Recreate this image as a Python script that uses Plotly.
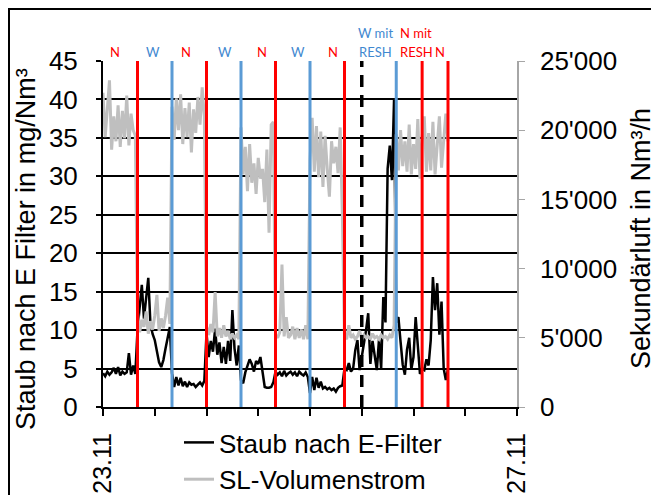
import pandas as pd
import plotly.graph_objects as go

# ---------------- data ----------------
START = "2015-11-23 00:00"
N_POINTS = 161          # 23.11 00:00 .. 26.11 08:00, every 30 min

# Staub nach E-Filter (mg/Nm3), left axis
staub = [
    # 0-8 h
    4.4, 4.0, 4.6, 4.2, 4.5, 5.1, 4.3, 5.2, 4.1, 4.6, 4.3, 4.5, 7.0, 4.2, 5.4, 4.3,
    # 8-16 h
    10.0, 12.6, 15.9, 11.5, 14.0, 16.8, 10.8, 9.5, 8.7, 7.4, 5.8, 5.2, 6.1, 7.6, 9.2, 10.4,
    # 16-24 h
    4.4, 2.6, 3.9, 2.8, 3.8, 2.7, 3.3, 2.6, 3.2, 2.9, 3.0, 2.6, 2.9, 3.2, 2.8, 3.4,
    # 24-32 h
    9.6, 6.5, 8.6, 7.2, 10.2, 6.8, 8.4, 5.7, 7.8, 5.6, 8.6, 6.0, 12.6, 7.6, 5.4, 8.0,
    # 32-40 h
    3.5, 3.1, 4.5, 5.3, 6.2, 5.6, 4.6, 6.0, 5.6, 6.5, 4.8, 2.6, 2.5, 2.5, 2.6, 3.2,
    # 40-48 h
    4.6, 4.2, 4.5, 4.0, 4.7, 4.1, 4.4, 4.6, 4.2, 4.5, 4.0, 4.6, 4.3, 4.1, 4.5, 3.9,
    # 48-56 h
    1.8, 3.9, 2.2, 3.8, 2.5, 3.3, 2.4, 2.6, 2.3, 2.5, 2.2, 2.4, 2.0, 2.5, 2.7, 2.8,
    # 56-68 h
    5.0, 4.8, 5.7, 4.6, 5.0, 7.4, 8.7, 4.8, 6.5, 8.0, 10.0, 12.2, 5.6, 8.6, 6.8, 4.8,
    8.8, 5.0, 14.3, 11.0, 31.0, 34.0, 29.5, 40.2,
    # 68-80 h
    11.0, 11.7, 8.5, 5.5, 4.2, 7.5, 9.0, 4.9, 6.5, 11.7, 8.0, 4.3, 5.0, 4.8, 6.2, 5.4,
    8.7, 16.9, 12.6, 16.1, 9.4, 13.7, 5.0, 3.5, 4.9,
]

# SL-Volumenstrom (Nm3/h), right axis
sl_volumen = [
    # 0-8 h
    22700, 19500, 21500, 23600, 18600, 21000, 19200, 21800, 18800, 21400, 19400, 22500, 18900, 21200, 20000, 19600,
    # 8-16 h
    6800, 5400, 6300, 5800, 6900, 5300, 6200, 5600, 6600, 8100, 5500, 6400, 5700, 6600, 7900, 6000,
    # 16-24 h
    21700, 19300, 22300, 20000, 22600, 19000, 21600, 19500, 22000, 18400, 21500, 19800, 22400, 20400, 23100, 21000,
    # 24-32 h
    5800, 5200, 6000, 5400, 8300, 5100, 5700, 5000, 5900, 5100, 5500, 4900, 5300, 5000, 5200, 4900,
    # 32-40 h
    20200, 16800, 18800, 15600, 19000, 16200, 17600, 15400, 18000, 16500, 17200, 14800, 18600, 12600, 20400, 20600,
    # 40-48 h
    5200, 5000, 5400, 10300, 5100, 6500, 5000, 5200, 5800, 4900, 5700, 5000, 5600, 4900, 5900, 4900,
    # 48-56 h
    17800, 20900, 17000, 20300, 16600, 19900, 15900, 19600, 17200, 15200, 19200, 17600, 18800, 16900, 20200, 14000,
    # 56-68 h
    5100, 4900, 5900, 5000, 5200, 4900, 5100, 5500, 4900, 5200, 5000, 5100, 4900, 5300, 5000, 5100,
    4900, 5200, 5000, 5100, 4900, 5200, 5000, 5900,
    # 68-80 h
    19700, 17100, 20000, 17400, 19200, 17000, 20400, 16800, 19000, 17200, 20800, 16500, 19500, 21000, 17000, 19800,
    17100, 20600, 16800, 19300, 21000, 17300, 19600, 21200, 19200,
]

# period boundaries (hours after start)
red_lines = [8, 24, 40, 56, 74, 80]
blue_lines = [16, 32, 48, 68]
dashed_lines = [60]

# period labels
label_hours = [2.8, 11.5, 19.25, 28.3, 36.9, 45.3, 53.4, 63.1, 72.6, 78.1]
label_line1 = ["", "", "", "", "", "", "", "W mit", "N mit", ""]
label_line2 = ["N", "W", "N", "W", "N", "W", "N", "RESH", "RESH", "N"]
label_kind = ["N", "W", "N", "W", "N", "W", "N", "W", "N", "N"]

x_tick_labels = ["23.11", "", "", "", "", "", "", "", "27.11"]
left_ticks = [0, 5, 10, 15, 20, 25, 30, 35, 40, 45]
right_ticks = [0, 5000, 10000, 15000, 20000, 25000]

# ---------------- figure ----------------
t0 = pd.Timestamp(START)
times = pd.date_range(t0, periods=N_POINTS, freq="30min")


def at(h):
    return t0 + pd.Timedelta(hours=h)


RED = "#ff0000"
BLUE = "#5b9bd5"
BLUE_TXT = "#3f88d0"
FONT = "Arial, Liberation Sans, sans-serif"
LBL_FONT = "Lato, Open Sans, sans-serif"

# page body has an 8 px margin -> figure is 8 px smaller, plot area placed to match
OFF = 8
W, H = 659 - OFF, 495 - OFF
PLOT_L, PLOT_R, PLOT_T, PLOT_B = 103, 517, 61, 407   # window pixel positions
L, T = PLOT_L - OFF, PLOT_T - OFF
R, B = 659 - PLOT_R, 495 - PLOT_B
PW, PH = PLOT_R - PLOT_L, PLOT_B - PLOT_T


def px(x):   # window pixel x -> paper
    return (x - PLOT_L) / PW


def py(y):   # window pixel y -> paper
    return (PLOT_B - y) / PH


fig = go.Figure()
fig.add_trace(go.Scatter(x=times, y=staub, mode="lines", name="Staub nach E-Filter",
                         line=dict(color="black", width=2.5), yaxis="y"))
fig.add_trace(go.Scatter(x=times, y=sl_volumen, mode="lines", name="SL-Volumenstrom",
                         line=dict(color="#bfbfbf", width=3), yaxis="y2"))

shapes = []
for h in red_lines:
    shapes.append(dict(type="line", xref="x", yref="paper", x0=at(h), x1=at(h), y0=0, y1=1,
                       line=dict(color=RED, width=3), layer="above"))
for h in blue_lines:
    shapes.append(dict(type="line", xref="x", yref="paper", x0=at(h), x1=at(h), y0=0, y1=1,
                       line=dict(color=BLUE, width=3), layer="above"))
for h in dashed_lines:
    shapes.append(dict(type="line", xref="x", yref="paper", x0=at(h), x1=at(h), y0=0, y1=1,
                       line=dict(color="black", width=3.5, dash="12px,8px"), layer="above"))

# outer chart frame (right and bottom edges lie outside the picture)
shapes.append(dict(type="rect", xref="paper", yref="paper",
                   x0=px(9), x1=px(664), y0=py(500), y1=py(9),
                   line=dict(color="black", width=2), fillcolor="rgba(0,0,0,0)"))

annotations = []
for h, l1, l2, k in zip(label_hours, label_line1, label_line2, label_kind):
    col = RED if k == "N" else BLUE_TXT
    annotations.append(dict(x=at(h), xref="x", y=py(52), yref="paper", text=l2,
                            showarrow=False, xanchor="center", yanchor="middle",
                            font=dict(family=LBL_FONT, size=13, color=col)))
    if l1:
        annotations.append(dict(x=at(h), xref="x", y=py(33), yref="paper", text=l1,
                                showarrow=False, xanchor="center", yanchor="middle",
                                font=dict(family=LBL_FONT, size=13, color=col)))

annotations.append(dict(x=px(26), y=py(249), xref="paper", yref="paper",
                        text="Staub nach E Filter in mg/Nm³", textangle=-90, showarrow=False,
                        xanchor="center", yanchor="middle",
                        font=dict(family=FONT, size=27, color="black")))
annotations.append(dict(x=px(641), y=py(239), xref="paper", yref="paper",
                        text="Sekundärluft in Nm³/h", textangle=-90, showarrow=False,
                        xanchor="center", yanchor="middle",
                        font=dict(family=FONT, size=27, color="black")))

fig.update_layout(
    template="none",
    width=W, height=H,
    margin=dict(l=L, r=R, t=T, b=B, pad=0, autoexpand=False),
    paper_bgcolor="white", plot_bgcolor="white",
    font=dict(family=FONT, size=26, color="black"),
    separators=".'",
    showlegend=True,
    legend=dict(x=px(179), y=py(419), xanchor="left", yanchor="top",
                bgcolor="rgba(0,0,0,0)", font=dict(size=26), tracegroupgap=0),
    xaxis=dict(
        type="date", range=[at(0), at(96)],
        tickvals=[at(12 * i) for i in range(9)], ticktext=x_tick_labels,
        tickangle=-90, ticks="outside", ticklen=7, tickwidth=1.5, tickcolor="black",
        tickfont=dict(size=25),
        showline=True, linecolor="black", linewidth=2, showgrid=False, zeroline=False,
        ticklabelstandoff=7, automargin=False,
    ),
    yaxis=dict(
        range=[0, 45], tickvals=left_ticks, ticks="outside", ticklen=5, tickwidth=1.5,
        tickcolor="black", showline=True, linecolor="black", linewidth=2,
        showgrid=True, gridcolor="black", gridwidth=2, zeroline=False,
        ticklabelstandoff=13, automargin=False,
    ),
    yaxis2=dict(
        range=[0, 25000], tickvals=right_ticks, tickformat=",", overlaying="y", side="right",
        ticks="outside", ticklen=6, tickwidth=1, tickcolor="#a6a6a6",
        showline=True, linecolor="#a6a6a6", linewidth=1.5, showgrid=False, zeroline=False,
        ticklabelstandoff=10, automargin=False,
    ),
    shapes=shapes,
    annotations=annotations,
)

fig.write_html("out.html")
